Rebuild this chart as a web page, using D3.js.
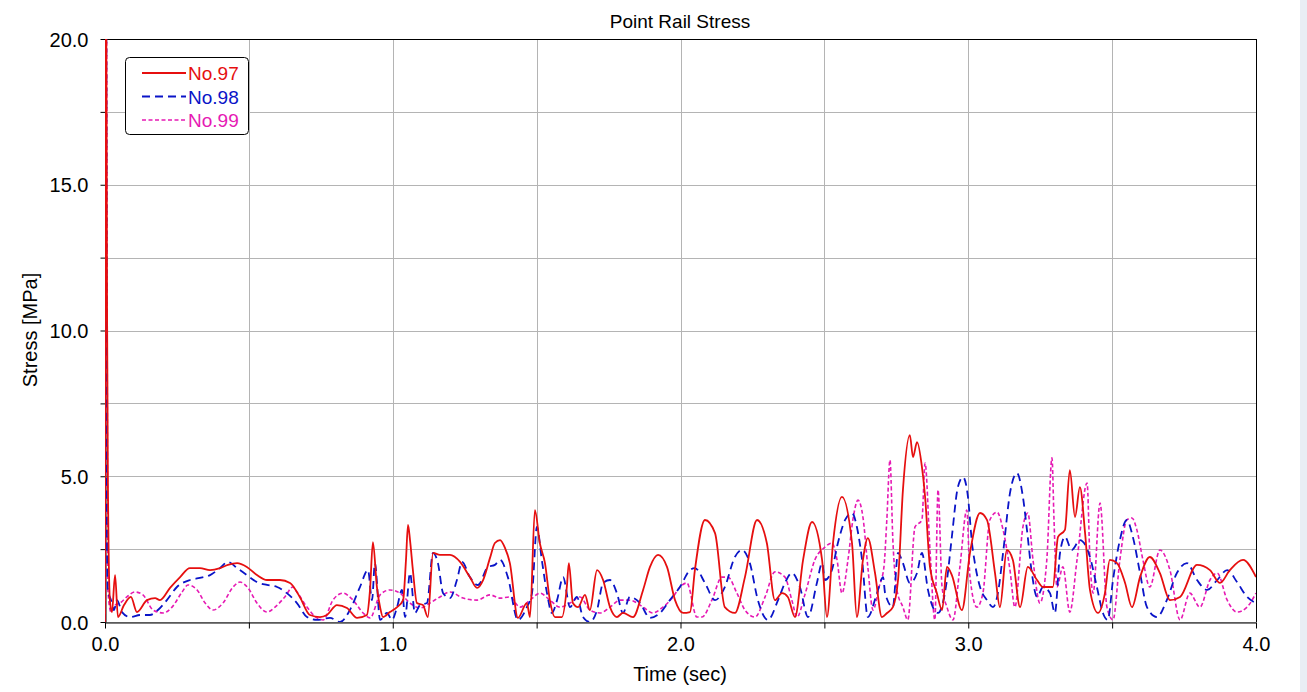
<!DOCTYPE html>
<html><head><meta charset="utf-8">
<script src="https://cdn.jsdelivr.net/npm/d3@7"></script>
<style>
html,body{margin:0;padding:0;background:#fff;}
svg{display:block;font-family:"Liberation Sans",Arial,sans-serif;}
</style></head>
<body>
<svg id="c" width="1307" height="692"></svg>
<script>
const title = "Point Rail Stress";
const xLabel = "Time (sec)";
const yLabel = "Stress [MPa]";
const seriesNames = ["No.97", "No.98", "No.99"];
const xTickValues = [0, 1, 2, 3, 4];
const yTickValues = [0, 5, 10, 15, 20];

const t97 = [0,0.003,0.007,0.010,0.017,0.024,0.035,0.045,0.066,0.090,0.111,0.146,0.174,0.191,0.226,0.261,0.295,0.330,0.365,0.400,0.427,0.459,0.493,0.528,0.563,0.608,0.643,0.677,0.712,0.747,0.771,0.806,0.841,0.876,0.910,0.921,0.931,0.945,0.956,0.966,0.990,1.015,1.036,1.046,1.053,1.060,1.070,1.084,1.105,1.122,1.140,1.164,1.199,1.234,1.268,1.293,1.314,1.338,1.355,1.373,1.390,1.407,1.435,1.466,1.477,1.494,1.511,1.529,1.546,1.564,1.588,1.605,1.612,1.626,1.644,1.668,1.685,1.710,1.731,1.755,1.779,1.800,1.835,1.870,1.894,1.922,1.953,1.981,2.009,2.033,2.050,2.085,2.120,2.154,2.189,2.224,2.266,2.300,2.328,2.353,2.373,2.398,2.426,2.457,2.492,2.509,2.530,2.561,2.596,2.613,2.634,2.651,2.676,2.700,2.718,2.738,2.756,2.773,2.797,2.808,2.822,2.839,2.850,2.867,2.891,2.909,2.926,2.943,2.978,3.006,3.041,3.065,3.093,3.110,3.134,3.155,3.180,3.207,3.239,3.260,3.294,3.312,3.336,3.353,3.371,3.388,3.406,3.423,3.451,3.475,3.492,3.517,3.545,3.569,3.597,3.631,3.666,3.701,3.736,3.795,3.840,3.875,3.909,3.955,4.000];
const v97 = [0,25,11.05,4.87,0.75,0.34,1.61,0.17,0.58,0.86,0.34,0.75,0.82,0.75,1.17,1.54,1.85,1.85,1.78,1.85,1.96,2.02,1.89,1.61,1.44,1.44,1.34,0.86,0.24,0.17,0.24,0.58,0.48,0.14,0.24,1.10,2.74,1.20,0.51,0.17,0.34,0.51,0.75,2.13,3.33,2.81,1.78,0.65,0.58,0.17,2.37,2.30,2.30,2.06,1.54,1.17,1.44,2.20,2.71,2.81,2.54,2.02,0.14,0.65,0.17,3.84,2.71,2.02,0.75,0.17,0.17,1.20,2.02,0.65,0.51,0.93,0.41,1.78,1.44,0.51,0.17,0.31,0.17,1.10,1.89,2.30,1.89,0.75,0.31,0.34,1.78,3.50,3.05,0.51,0.31,1.54,3.50,2.71,0.75,0.99,0.86,0.17,2.13,3.43,2.13,0.17,2.71,4.29,2.71,0.17,2.13,2.88,1.68,0.17,0.31,0.51,1.44,4.53,6.41,5.66,6.17,5.32,4.29,1.89,0.99,0.41,1.89,1.61,0.41,2.37,3.74,3.50,1.68,0.51,2.47,2.13,0.51,1.89,1.44,1.20,1.20,2.92,3.16,5.21,3.60,4.63,3.05,1.10,0.31,0.99,2.13,2.02,1.34,0.51,1.54,2.23,1.68,0.75,0.86,1.96,1.78,1.34,1.78,2.13,1.54];

const t98 = [0,0.0035,0.007,0.010,0.021,0.031,0.042,0.059,0.087,0.122,0.156,0.184,0.215,0.250,0.295,0.330,0.365,0.400,0.427,0.459,0.493,0.528,0.563,0.598,0.632,0.667,0.702,0.737,0.782,0.817,0.851,0.886,0.914,0.928,0.938,0.956,0.980,0.997,1.015,1.032,1.043,1.060,1.077,1.095,1.119,1.140,1.157,1.175,1.199,1.223,1.241,1.268,1.296,1.331,1.355,1.373,1.400,1.435,1.466,1.484,1.501,1.518,1.536,1.553,1.571,1.592,1.616,1.640,1.661,1.685,1.710,1.731,1.755,1.779,1.800,1.824,1.859,1.894,1.929,1.963,1.998,2.033,2.050,2.085,2.120,2.154,2.189,2.214,2.241,2.269,2.304,2.339,2.363,2.387,2.415,2.443,2.474,2.492,2.502,2.526,2.547,2.572,2.596,2.613,2.631,2.651,2.683,2.704,2.711,2.738,2.756,2.773,2.797,2.822,2.839,2.860,2.877,2.895,2.926,2.943,2.964,2.982,2.999,3.013,3.023,3.041,3.065,3.086,3.103,3.121,3.145,3.169,3.190,3.204,3.221,3.239,3.260,3.284,3.301,3.319,3.336,3.360,3.388,3.423,3.447,3.468,3.485,3.503,3.527,3.551,3.572,3.597,3.621,3.656,3.690,3.725,3.760,3.795,3.830,3.865,3.900,3.934,3.969,4.000];
const v98 = [0,25,2.64,1.10,0.75,0.41,0.75,0.34,0.17,0.24,0.24,0.41,0.75,1.20,1.44,1.51,1.61,1.85,2.06,1.85,1.61,1.37,1.27,1.20,0.99,0.65,0.17,0.07,0.14,0,0.41,1.20,1.78,0.75,2.02,0.07,0.31,0.07,0.51,1.10,0.17,1.68,0.31,0.58,0.65,2.37,2.02,0.99,0.82,1.44,2.06,1.54,1.27,1.89,1.96,2.13,1.54,0.07,0.51,0.99,3.26,2.13,0.99,0.31,0.75,1.54,0.51,0.86,0.17,0,0.41,1.34,1.44,0.99,0.31,0.86,0.65,0.14,0.31,0.75,1.20,1.78,1.85,1.34,0.75,1.20,2.23,2.47,2.02,0.75,0.07,0.75,1.34,1.68,1.20,0.17,1.34,2.02,1.44,1.78,2.71,3.50,3.74,3.26,2.13,0.17,0.99,1.54,0.99,0.51,2.37,2.02,1.34,1.68,2.37,1.10,0.51,0.31,1.44,2.92,4.63,4.97,4.29,2.71,2.02,1.20,0.75,0.51,0.99,2.37,4.42,5.11,4.29,3.16,1.68,0.86,1.20,0.99,0.31,2.37,2.92,2.47,2.81,2.23,1.20,0.31,0.07,1.44,2.81,3.50,2.92,1.68,0.51,0.17,0.75,1.68,2.02,1.44,1.10,1.44,1.78,1.37,0.86,0.65];

const t99 = [0,0.004,0.010,0.021,0.035,0.052,0.076,0.104,0.132,0.167,0.202,0.233,0.268,0.288,0.320,0.348,0.375,0.410,0.445,0.469,0.497,0.528,0.563,0.591,0.625,0.653,0.667,0.702,0.737,0.758,0.792,0.827,0.862,0.897,0.921,0.956,0.990,1.025,1.060,1.095,1.129,1.164,1.199,1.244,1.293,1.338,1.373,1.407,1.442,1.477,1.512,1.546,1.581,1.616,1.651,1.685,1.720,1.755,1.790,1.824,1.870,1.904,1.939,1.974,1.998,2.022,2.057,2.075,2.109,2.144,2.165,2.196,2.224,2.259,2.294,2.328,2.363,2.387,2.405,2.432,2.467,2.502,2.526,2.544,2.561,2.582,2.599,2.617,2.634,2.651,2.669,2.690,2.707,2.717,2.728,2.738,2.752,2.773,2.790,2.815,2.839,2.850,2.867,2.884,2.895,2.909,2.926,2.947,2.971,2.995,3.006,3.030,3.051,3.075,3.100,3.121,3.145,3.162,3.190,3.207,3.225,3.249,3.273,3.291,3.298,3.308,3.329,3.353,3.378,3.413,3.423,3.434,3.458,3.482,3.503,3.527,3.551,3.569,3.586,3.607,3.631,3.666,3.701,3.736,3.770,3.805,3.840,3.865,3.900,3.934,3.969,4.000];
const v99 = [0,25,1.10,0.34,0.58,0.65,0.86,1.03,0.93,0.41,0.31,0.51,1.03,1.27,1.10,0.65,0.41,0.65,1.20,1.37,1.17,0.65,0.34,0.51,0.86,1.20,1.03,0.51,0.14,0.07,0.75,0.99,0.75,0.31,0.14,0.93,1.10,0.99,0.65,0.48,0.65,0.86,1.03,0.82,0.75,0.93,0.82,0.86,0.51,0.75,0.99,0.75,0.51,0.65,0.86,0.41,0.31,0.51,0.75,0.75,0.51,0.31,0.51,0.86,1.20,1.34,0.17,0.17,0.75,1.54,1.54,0.99,0.41,0.17,0.86,1.72,1.54,0.75,0.17,0.93,2.13,2.57,2.71,2.13,0.99,2.13,3.50,4.18,3.60,1.89,0.41,1.20,1.89,3.50,5.56,2.81,1.10,0.51,0.07,3.26,3.50,5.45,2.47,0.07,4.53,1.20,0.51,0.07,1.89,3.84,1.54,0.51,0.99,3.50,3.77,3.16,1.78,0.51,3.26,3.74,2.13,0.65,2.13,5.63,3.50,1.20,1.89,0.34,2.13,4.77,2.13,0.99,4.08,0.51,0.07,2.13,3.50,3.57,3.16,2.13,1.20,2.47,1.78,0.07,0.99,0.51,1.44,1.68,0.75,0.34,0.51,0.99];

const series = [
  {name: seriesNames[2], t: t99, v: v99, color: "#e61ab4", width: 1.6, dash: "4,2.5"},
  {name: seriesNames[1], t: t98, v: v98, color: "#0a14c8", width: 1.8, dash: "8,5"},
  {name: seriesNames[0], t: t97, v: v97, color: "#e60f0f", width: 1.8, dash: null}
];

const svg = d3.select("#c");
const L = 105, R = 1256, T = 39, B = 622;
const x = d3.scaleLinear().domain([0, 4]).range([L, R]);
const y = d3.scaleLinear().domain([0, 20]).range([B, T]);

// right-side UI strip
svg.append("rect").attr("x", 1300).attr("y", 0).attr("width", 7).attr("height", 692).attr("fill", "#e9eef4");

// grid
const gx = d3.range(0, 4.01, 0.5), gy = d3.range(0, 20.01, 2.5);
svg.append("g").selectAll("line").data(gx).join("line")
  .attr("x1", d => Math.round(x(d)) + 0.5).attr("x2", d => Math.round(x(d)) + 0.5)
  .attr("y1", T).attr("y2", B).attr("stroke", "#b4b4b4").attr("stroke-width", 1);
svg.append("g").selectAll("line").data(gy).join("line")
  .attr("y1", d => Math.round(y(d)) + 0.5).attr("y2", d => Math.round(y(d)) + 0.5)
  .attr("x1", L).attr("x2", R).attr("stroke", "#b4b4b4").attr("stroke-width", 1);

// frame
svg.append("line").attr("x1", L).attr("x2", R + 0.5).attr("y1", T + 0.5).attr("y2", T + 0.5).attr("stroke", "#000");
svg.append("line").attr("x1", R + 0.5).attr("x2", R + 0.5).attr("y1", T).attr("y2", B).attr("stroke", "#000");

// axes
const xAxis = d3.axisBottom(x).tickValues(gx).tickSize(6).tickSizeOuter(0)
  .tickFormat(d => xTickValues.includes(d) ? d3.format(".1f")(d) : "");
const gxA = svg.append("g").attr("transform", `translate(0,${B + 0.5})`).call(xAxis);
const yAxis = d3.axisLeft(y).tickValues(gy).tickSize(5).tickSizeOuter(0)
  .tickFormat(d => yTickValues.includes(d) ? d3.format(".1f")(d) : "");
const gyA = svg.append("g").attr("transform", `translate(${L + 0.5},0)`).call(yAxis);
[gxA, gyA].forEach(g => {
  g.select(".domain").attr("stroke", "#000");
  g.selectAll(".tick line").attr("stroke", "#000");
  g.selectAll(".tick text").attr("fill", "#000").attr("font-size", 20)
    .attr("font-family", "'Liberation Sans', Arial, sans-serif");
});
gxA.selectAll(".tick text").attr("dy", "0.95em").attr("y", 9);
gyA.selectAll(".tick text").attr("x", -17).attr("dy", "0.36em");

// clip
svg.append("clipPath").attr("id", "clip").append("rect")
  .attr("x", L).attr("y", T).attr("width", R - L).attr("height", B - T);

const line = d3.line().x(d => x(d[0])).y(d => y(d[1])).curve(d3.curveMonotoneX);
const plot = svg.append("g").attr("clip-path", "url(#clip)");
series.forEach(s => {
  const pts = s.t.map((t, i) => [t, s.v[i]]);
  plot.append("path").attr("d", line(pts)).attr("fill", "none")
    .attr("stroke", s.color).attr("stroke-width", s.width)
    .attr("stroke-dasharray", s.dash).attr("stroke-linejoin", "round");
});

// titles
svg.append("text").attr("x", 680).attr("y", 28).attr("text-anchor", "middle")
  .attr("font-size", 19).attr("fill", "#000").text(title);
svg.append("text").attr("x", 680).attr("y", 681).attr("text-anchor", "middle")
  .attr("font-size", 20).attr("fill", "#000").text(xLabel);
svg.append("text").attr("transform", "translate(37,330) rotate(-90)").attr("text-anchor", "middle")
  .attr("font-size", 20).attr("fill", "#000").text(yLabel);

// legend
const lg = svg.append("g");
lg.append("rect").attr("x", 125.5).attr("y", 57.5).attr("width", 123).attr("height", 77).attr("rx", 4)
  .attr("fill", "#fff").attr("stroke", "#000");
const legOrder = [series[2], series[1], series[0]];
legOrder.forEach((s, i) => {
  const yy = 73 + i * 23.5;
  lg.append("line").attr("x1", 142).attr("x2", 186).attr("y1", yy).attr("y2", yy)
    .attr("stroke", s.color).attr("stroke-width", s.width).attr("stroke-dasharray", s.dash);
  lg.append("text").attr("x", 188).attr("y", yy + 7).attr("font-size", 19).attr("fill", s.color).text(s.name);
});
</script>
</body></html>
